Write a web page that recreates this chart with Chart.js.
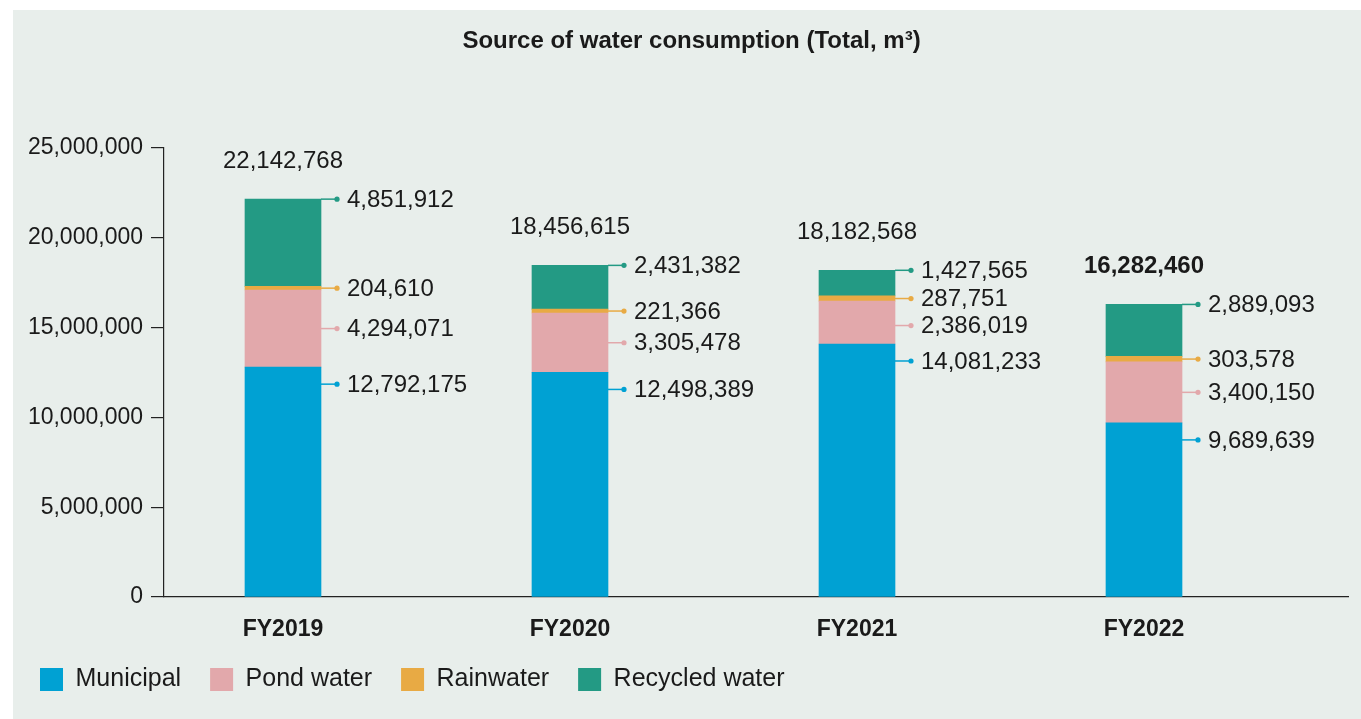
<!DOCTYPE html>
<html lang="en">

<head>
    <meta charset="UTF-8">
    <title>Source of water consumption</title>
    <script src="https://cdn.jsdelivr.net/npm/chart.js"></script>
    <style>
        html, body { margin: 0; padding: 0; background: #ffffff; }
        #wrap { width: 1361px; height: 719px; }
    </style>
</head>

<body>
    <div id="wrap"><canvas id="waterChart" width="1361" height="719"></canvas></div>
    <script>
        // Water sources per fiscal year, m³
        const years = ['FY2019', 'FY2020', 'FY2021', 'FY2022'];
        const municipal = [12792175, 12498389, 14081233, 9689639];
        const pondWater = [4294071, 3305478, 2386019, 3400150];
        const rainwater = [204610, 221366, 287751, 303578];
        const recycledWater = [4851912, 2431382, 1427565, 2889093];
        const yTicks = [0, 5000000, 10000000, 15000000, 20000000, 25000000];
        const latestYear = 'FY2022';

        const ink = '#1a1a1a';
        const fmt = v => v.toLocaleString('en-US');
        const points = arr => arr.map((v, i) => ({ x: i, y: v }));

        Chart.defaults.font.family = '"Liberation Sans", Arial, Helvetica, sans-serif';
        Chart.defaults.color = ink;

        // light panel behind the chart
        const panel = {
            id: 'panel',
            beforeDraw(chart) {
                const c = chart.ctx;
                c.save();
                c.fillStyle = '#e8eeeb';
                c.fillRect(13, 10, chart.width - 13, chart.height - 10);
                c.restore();
            },
            afterLayout(chart) {
                // title sits a little right of the canvas centre
                chart.titleBlock.left += 24;
            }
        };

        // value callouts to the right of each segment + totals above bars
        const callouts = {
            id: 'callouts',
            afterDatasetsDraw(chart) {
                const c = chart.ctx;
                const sets = chart.data.datasets;
                c.save();
                c.textBaseline = 'middle';
                years.forEach((year, i) => {
                    let items = [];
                    let top = Infinity, cx = 0;
                    sets.forEach((ds, d) => {
                        const bar = chart.getDatasetMeta(d).data[i];
                        const yTop = Math.min(bar.y, bar.base), yBot = Math.max(bar.y, bar.base);
                        let y = ds.labelAnchor === 'center' ? (yTop + yBot) / 2 : yTop;
                        y += ds.labelShift || 0;
                        items.push({ y, value: ds.data[i].y, color: ds.backgroundColor, edge: bar.x + bar.width / 2 });
                        top = Math.min(top, yTop);
                        cx = bar.x;
                    });
                    // top-down, keep labels from overlapping
                    items.sort((a, b) => a.y - b.y);
                    for (let k = 1; k < items.length; k++) {
                        if (items[k].y - items[k - 1].y < 27) items[k].y = items[k - 1].y + 27;
                    }
                    items.forEach(it => {
                        c.strokeStyle = it.color;
                        c.fillStyle = it.color;
                        c.lineWidth = 1.5;
                        c.beginPath();
                        c.moveTo(it.edge, it.y);
                        c.lineTo(it.edge + 16, it.y);
                        c.stroke();
                        c.beginPath();
                        c.arc(it.edge + 16, it.y, 2.6, 0, Math.PI * 2);
                        c.fill();
                        c.fillStyle = ink;
                        c.font = '24px "Liberation Sans", Arial, sans-serif';
                        c.textAlign = 'left';
                        c.fillText(fmt(it.value), it.edge + 26, it.y + 1);
                    });
                    const total = sets.reduce((s, ds) => s + ds.data[i].y, 0);
                    c.font = (year === latestYear ? 'bold ' : '') + '24px "Liberation Sans", Arial, sans-serif';
                    c.textAlign = 'center';
                    c.fillStyle = ink;
                    c.fillText(fmt(total), cx, top - 38);
                });
                c.restore();
            }
        };

        const ctx = document.getElementById('waterChart').getContext('2d');
        const chart = new Chart(ctx, {
            type: 'bar',
            data: {
                datasets: [
                    { label: 'Municipal', data: points(municipal), backgroundColor: '#00a1d3', labelAnchor: 'top', labelShift: 17 },
                    { label: 'Pond water', data: points(pondWater), backgroundColor: '#e2a8ab', labelAnchor: 'center' },
                    { label: 'Rainwater', data: points(rainwater), backgroundColor: '#e8aa44', labelAnchor: 'center' },
                    { label: 'Recycled water', data: points(recycledWater), backgroundColor: '#239a84', labelAnchor: 'top' }
                ]
            },
            options: {
                responsive: false,
                animation: false,
                barThickness: 76,
                layout: { padding: { left: 11, right: 13, top: 0, bottom: 17 } },
                plugins: {
                    title: {
                        display: true,
                        text: 'Source of water consumption (Total, m³)',
                        font: { size: 24, weight: 'bold' },
                        color: ink,
                        padding: { top: 27, bottom: 92 }
                    },
                    legend: {
                        position: 'bottom',
                        align: 'start',
                        labels: {
                            boxWidth: 23,
                            boxHeight: 23,
                            padding: 29,
                            font: { size: 25 },
                            color: ink
                        }
                    },
                    tooltip: { enabled: false }
                },
                scales: {
                    x: {
                        type: 'linear',
                        stacked: true,
                        offset: false,
                        min: -0.4146,
                        max: 3.7108,
                        afterBuildTicks: s => { s.ticks = years.map((y, i) => ({ value: i })); },
                        afterFit: s => { s.height = 41; },
                        ticks: {
                            callback: v => years[v],
                            font: { size: 23, weight: 'bold' },
                            color: ink,
                            padding: 11,
                            maxRotation: 0
                        },
                        grid: { display: false, offset: false },
                        border: { display: true, color: '#222', width: 1.2 }
                    },
                    y: {
                        stacked: true,
                        min: 0,
                        max: 25000000,
                        afterBuildTicks: s => { s.ticks = yTicks.map(v => ({ value: v })); },
                        afterFit: s => { s.width = 153; },
                        ticks: {
                            callback: v => fmt(v),
                            font: { size: 23 },
                            color: ink,
                            padding: 8
                        },
                        grid: { drawOnChartArea: false, drawTicks: true, tickLength: 13, color: '#222', lineWidth: 1.2 },
                        border: { display: true, color: '#222', width: 1.2 }
                    }
                }
            },
            plugins: [panel, callouts]
        });
    </script>
</body>

</html>
